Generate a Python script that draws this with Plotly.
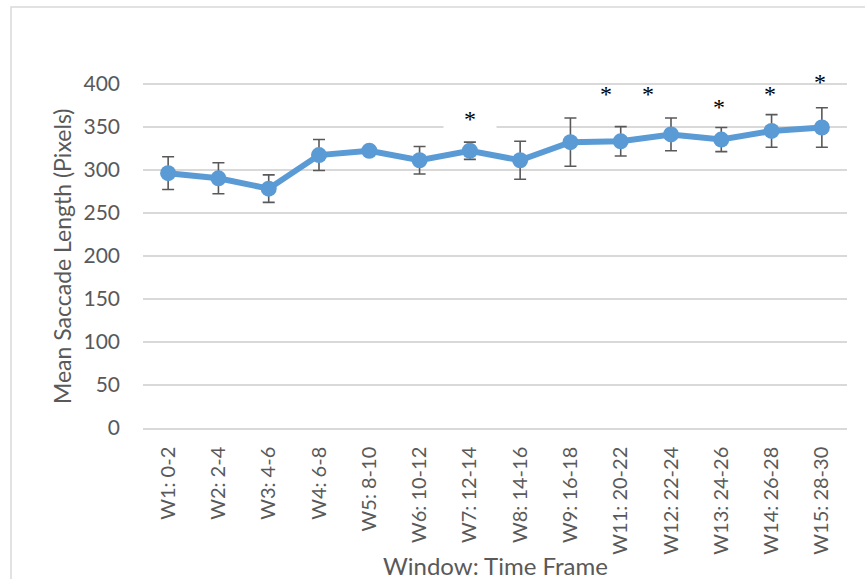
import plotly.graph_objects as go

# Time windows (W10 not reported)
windows = ["W1: 0-2", "W2: 2-4", "W3: 4-6", "W4: 6-8", "W5: 8-10", "W6: 10-12",
           "W7: 12-14", "W8: 14-16", "W9: 16-18", "W11: 20-22", "W12: 22-24",
           "W13: 24-26", "W14: 26-28", "W15: 28-30"]
mean_saccade = [296, 290, 278, 317, 322, 311, 322, 311, 332, 333, 341, 335, 345, 349]
error_sd = [19, 18, 16, 18, 3, 16, 10, 22, 28, 17, 19, 14, 19, 23]

# Significance markers (category-index position, value height)
star_x = [6.0, 8.71, 9.54, 10.95, 11.97, 12.96]
star_y = [363, 393, 393, 378, 393, 406]

y_ticks = [0, 50, 100, 150, 200, 250, 300, 350, 400]

FONT = "Lato"
GRAY = "#595959"
GRID = "#D9D9D9"

fig = go.Figure()
fig.add_trace(go.Scatter(
    x=windows, y=mean_saccade,
    mode="lines+markers",
    line=dict(color="#5B9BD5", width=6),
    marker=dict(color="#5B9BD5", size=16),
    error_y=dict(type="data", array=error_sd, visible=True,
                 color=GRAY, thickness=1.6, width=6),
    cliponaxis=False,
    showlegend=False,
))

annotations = []
for i, (sx, sy) in enumerate(zip(star_x, star_y)):
    ann = dict(x=sx, y=sy, xref="x", yref="y", text="*", showarrow=False,
               font=dict(family="Liberation Serif", size=24, color="black"),
               yshift=-4)
    if i == 0:
        ann.update(bgcolor="white", width=50, height=36)
    annotations.append(ann)

annotations.append(dict(
    x=0.5, y=-(565 - 428) / 353, xref="paper", yref="paper", text="Window: Time Frame",
    showarrow=False, font=dict(family=FONT, size=24, color=GRAY),
    xanchor="center", yanchor="middle"))
annotations.append(dict(
    x=-0.115, y=(428 - 256) / 353, xref="paper", yref="paper",
    text="Mean Saccade Length (Pixels)",
    showarrow=False, textangle=-90, font=dict(family=FONT, size=23, color=GRAY),
    xanchor="center", yanchor="middle"))

fig.update_layout(
    width=865, height=579,
    margin=dict(l=143, r=18, t=75, b=151),
    paper_bgcolor="white", plot_bgcolor="white",
    annotations=annotations,
    shapes=[dict(type="rect", xref="paper", yref="paper",
                 x0=(11 - 143) / 704, x1=(880 - 143) / 704,
                 y0=-(600 - 428) / 353, y1=(428 - 7) / 353,
                 line=dict(color=GRID, width=1.5), fillcolor="rgba(0,0,0,0)",
                 layer="below")],
    font=dict(family=FONT, color=GRAY),
)

fig.update_xaxes(
    type="category", range=[-0.5, len(windows) - 0.5], tickangle=-90,
    tickfont=dict(family=FONT, size=20, color=GRAY),
    showgrid=False, showline=True, linecolor=GRID, linewidth=1.5,
    ticks="", ticklabelstandoff=9, automargin=False,
)
fig.update_yaxes(
    range=[0, 410], tickvals=y_ticks, tickfont=dict(family=FONT, size=21, color=GRAY),
    showgrid=True, gridcolor=GRID, gridwidth=1.5, zeroline=False,
    showline=False, ticks="", ticklabelstandoff=22, automargin=False,
)

fig.write_html("out.html")
